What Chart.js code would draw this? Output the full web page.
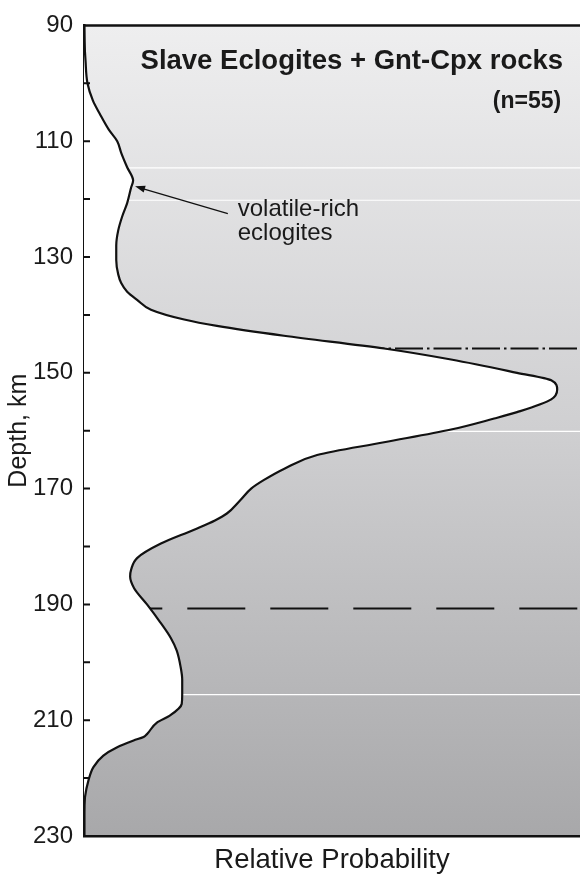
<!DOCTYPE html>
<html>
<head>
<meta charset="utf-8">
<script src="https://cdn.jsdelivr.net/npm/chart.js@4.4.0/dist/chart.umd.min.js"></script>
<style>
html, body { margin: 0; padding: 0; background: #fff; }
#wrap { width: 580px; height: 877px; }
</style>
</head>
<body>
<div id="wrap"><canvas id="myChart"></canvas></div>
<script>
// depth (km) and relative probability
var depths = [90, 93, 96, 100, 103, 105.3, 108, 110, 112, 114.5, 116.8, 118, 120.7, 123, 125.4, 128, 130.5,
    133, 134.5, 136, 137.4, 139.1, 140.8, 141.9, 143.6, 145.8, 147.7, 150, 151.3, 152.9, 154.6, 156.8,
    157.9, 159.8, 162, 164.2, 166.6, 168.5, 170, 172, 174.3, 175.5, 177.1, 179.5, 182, 184, 185.2, 187.2,
    190, 193, 195.8, 198, 200.9, 203, 205.5, 207.2, 209.2, 210.4, 212.4, 212.9, 213.5, 214.7, 216.1,
    218.1, 220.4, 223.3, 226, 230];
var probability = [0, 0.001, 0.003, 0.007, 0.018, 0.032, 0.050, 0.067, 0.075, 0.087, 0.099, 0.095, 0.087,
    0.077, 0.069, 0.065, 0.065, 0.069, 0.075, 0.087, 0.107, 0.135, 0.202, 0.268, 0.403, 0.605, 0.740,
    0.873, 0.942, 0.954, 0.942, 0.873, 0.827, 0.740, 0.605, 0.470, 0.403, 0.363, 0.337, 0.315, 0.288,
    0.264, 0.222, 0.155, 0.107, 0.095, 0.093, 0.101, 0.127, 0.153, 0.175, 0.187, 0.195, 0.198, 0.198,
    0.197, 0.173, 0.147, 0.127, 0.120, 0.100, 0.066, 0.039, 0.019, 0.009, 0.002, 0, 0];
var yTickLabels = [90, 110, 130, 150, 170, 190, 210, 230];
var depthTicks = [100, 110, 120, 130, 140, 150, 160, 170, 180, 190, 200, 210, 220];
var bandDepths = [114.6, 120.2, 160.1, 205.6];
var dashDotDepth = 145.8;
var dashedDepth = 190.7;

var FONT = "'Liberation Sans', Arial, Helvetica, sans-serif";

var curve = depths.map(function (d, i) { return { x: probability[i], y: d }; });

function flatLine(d) {
    return [{ x: 0, y: d }, { x: 1, y: d }];
}

var datasets = [{
    data: curve,
    borderColor: '#111',
    borderWidth: 2.2,
    backgroundColor: '#ffffff',
    fill: 'origin',
    cubicInterpolationMode: 'monotone',
    pointRadius: 0,
    order: 0
}];

bandDepths.forEach(function (d) {
    datasets.push({ data: flatLine(d), borderColor: '#ffffff', borderWidth: 1.2, pointRadius: 0, fill: false, order: 1 });
});
datasets.push({
    data: flatLine(dashDotDepth), borderColor: '#111', borderWidth: 2, pointRadius: 0, fill: false, order: 1,
    borderDash: [28, 4, 2.5, 4], borderDashOffset: 35.5
});
datasets.push({
    data: flatLine(dashedDepth), borderColor: '#111', borderWidth: 2, pointRadius: 0, fill: false, order: 1,
    borderDash: [58, 25], borderDashOffset: 62.7
});

var overlay = {
    id: 'overlay',
    beforeDraw: function (chart) {
        var a = chart.chartArea, ctx = chart.ctx;
        var g = ctx.createLinearGradient(0, a.top, 0, a.bottom);
        g.addColorStop(0, '#eeeeef');
        g.addColorStop(0.5, '#cfcfd1');
        g.addColorStop(1, '#a8a8aa');
        ctx.save();
        ctx.fillStyle = g;
        ctx.fillRect(a.left, a.top, a.right - a.left, a.bottom - a.top);
        ctx.restore();
    },
    afterDatasetsDraw: function (chart) {
        var ctx = chart.ctx, a = chart.chartArea, x = chart.scales.x, y = chart.scales.y;
        ctx.save();
        // top frame line
        ctx.strokeStyle = '#111';
        ctx.lineWidth = 2.5;
        ctx.beginPath();
        ctx.moveTo(a.left, a.top);
        ctx.lineTo(a.right, a.top);
        ctx.stroke();
        // inward ticks
        ctx.lineWidth = 2;
        ctx.beginPath();
        depthTicks.forEach(function (d) {
            var py = y.getPixelForValue(d);
            ctx.moveTo(a.left, py);
            ctx.lineTo(a.left + 6, py);
        });
        ctx.stroke();

        // arrow to the kink
        var tx = x.getPixelForValue(0.103), ty = y.getPixelForValue(117.8);
        var sx = x.getPixelForValue(0.290), sy = y.getPixelForValue(122.5);
        var ang = Math.atan2(ty - sy, tx - sx);
        ctx.lineWidth = 1.3;
        ctx.beginPath();
        ctx.moveTo(sx, sy);
        ctx.lineTo(tx - 6 * Math.cos(ang), ty - 6 * Math.sin(ang));
        ctx.stroke();
        ctx.fillStyle = '#111';
        ctx.beginPath();
        ctx.moveTo(tx, ty);
        ctx.lineTo(tx - 10 * Math.cos(ang) + 3.5 * Math.sin(ang), ty - 10 * Math.sin(ang) - 3.5 * Math.cos(ang));
        ctx.lineTo(tx - 10 * Math.cos(ang) - 3.5 * Math.sin(ang), ty - 10 * Math.sin(ang) + 3.5 * Math.cos(ang));
        ctx.closePath();
        ctx.fill();

        ctx.fillStyle = '#1a1a1a';
        ctx.textAlign = 'left';
        ctx.textBaseline = 'alphabetic';
        ctx.font = '24px ' + FONT;
        ctx.fillText('volatile-rich', x.getPixelForValue(0.310), y.getPixelForValue(123.0));
        ctx.fillText('eclogites', x.getPixelForValue(0.310), y.getPixelForValue(127.0));

        // title
        ctx.textAlign = 'right';
        ctx.font = 'bold 27.5px ' + FONT;
        ctx.fillText('Slave Eclogites + Gnt-Cpx rocks', x.getPixelForValue(0.966), y.getPixelForValue(97.6));
        ctx.font = 'bold 23px ' + FONT;
        ctx.fillText('(n=55)', x.getPixelForValue(0.962), y.getPixelForValue(104.2));
        ctx.restore();
    }
};

new Chart('myChart', {
    type: 'line',
    data: { datasets: datasets },
    plugins: [overlay],
    options: {
        indexAxis: 'y',
        responsive: true,
        maintainAspectRatio: false,
        animation: false,
        devicePixelRatio: 1,
        layout: { padding: { top: 21, right: 0, left: 0, bottom: 0 } },
        plugins: { legend: { display: false }, tooltip: { enabled: false } },
        scales: {
            x: {
                type: 'linear', min: 0, max: 1, z: 1,
                ticks: { display: false },
                grid: { display: false },
                border: { display: true, color: '#111', width: 2.5 },
                title: { display: true, text: 'Relative Probability', color: '#1a1a1a', font: { family: FONT, size: 27.5 }, padding: { top: 0, bottom: 0 } },
                afterFit: function (s) { s.height = 41; }
            },
            y: {
                type: 'linear', reverse: true, min: 90, max: 230, z: 1,
                afterBuildTicks: function (s) { s.ticks = yTickLabels.map(function (v) { return { value: v }; }); },
                ticks: { color: '#1a1a1a', padding: 11, font: { family: FONT, size: 24 } },
                grid: { display: true, drawOnChartArea: false, drawTicks: false },
                border: { display: true, color: '#111', width: 2.5 },
                title: { display: true, text: 'Depth, km', color: '#1a1a1a', font: { family: FONT, size: 25 }, padding: { top: 4, bottom: 0 } },
                afterFit: function (s) { s.width = 84; }
            }
        }
    }
});
</script>
</body>
</html>
